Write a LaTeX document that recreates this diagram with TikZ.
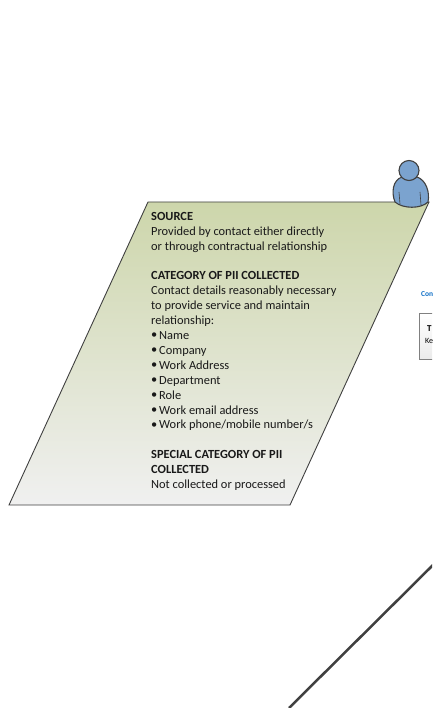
\documentclass[tikz,border=0pt]{standalone}
\usepackage{fontspec}
\setmainfont{Carlito}
\definecolor{linegray}{HTML}{404040}
\definecolor{personblue}{HTML}{7BA3CF}
\definecolor{linkblue}{HTML}{0F6FC6}
\definecolor{paneltop}{RGB}{205,214,171}
\definecolor{panelbottom}{RGB}{240,240,240}
\tikzset{
  panel/.style={draw=linegray, line width=0.9pt, top color=paneltop, bottom color=panelbottom},
  panel text/.style={anchor=north west, inner sep=0pt, align=left, text=black!90, font=\fontsize{12.4}{14.9}\selectfont},
  person/.style={draw=linegray, line width=1.1pt, fill=personblue},
  small box/.style={draw=gray, line width=1pt, top color=white, bottom color=black!8}
}
\newcommand{\itm}[1]{\makebox[8pt][l]{\raisebox{0.6pt}{\textbullet}}#1}
\begin{document}
\begin{tikzpicture}[x=1pt,y=-1pt]
  \useasboundingbox (0,0) rectangle (432,708);
  \clip (0,0) rectangle (432,708);

  % Panel with the slanted sides
  \draw[panel] (148,202) -- (429,202) -- (290,505) -- (9,505) -- cycle;
  \node[panel text] (paneltext) at (151,212) {%
    \textbf{SOURCE}\\
    Provided by contact either directly\\
    or through contractual relationship\\[14.9pt]
    \textbf{CATEGORY OF PII COLLECTED}\\
    Contact details reasonably necessary\\
    to provide service and maintain\\
    relationship:\\
    \itm{Name}\\
    \itm{Company}\\
    \itm{Work Address}\\
    \itm{Department}\\
    \itm{Role}\\
    \itm{Work email address}\\
    \itm{Work phone/mobile number/s}\\[14.9pt]
    \textbf{SPECIAL CATEGORY OF PII}\\
    \textbf{COLLECTED}\\
    Not collected or processed};

  % Person on the corner of the panel
  \draw[person] (395,202) .. controls (391,192) and (393,180) .. (402,177)
    .. controls (407,181) and (412,181) .. (417,177)
    .. controls (426,180) and (430,192) .. (428,202)
    .. controls (421,209) and (403,209) .. (395,202) -- cycle;
  \draw[linegray, line width=0.6pt] (399,192) -- (400,204);
  \draw[linegray, line width=0.6pt] (420,192) -- (421,205);
  \draw[person] (409,170.5) circle (10);

  % Cut off at the right border
  \node[anchor=west, inner sep=0pt, text=linkblue, font=\fontsize{7.5}{8}\selectfont\bfseries] (contactlabel) at (421,294) {Con};
  \draw[small box] (419.5,313) rectangle (445,359);
  \node[anchor=west, inner sep=0pt, font=\fontsize{9}{9}\selectfont\bfseries] (boxhead) at (427,329) {T};
  \node[anchor=west, inner sep=0pt, font=\fontsize{8}{9}\selectfont] (boxtext) at (425,341) {Ke};

  % Diagonal line
  \coordinate (linestart) at (289,708);
  \coordinate (lineend) at (433,565);
  \draw[linegray, line width=2.5pt] (linestart) -- (lineend);
\end{tikzpicture}
\end{document}
